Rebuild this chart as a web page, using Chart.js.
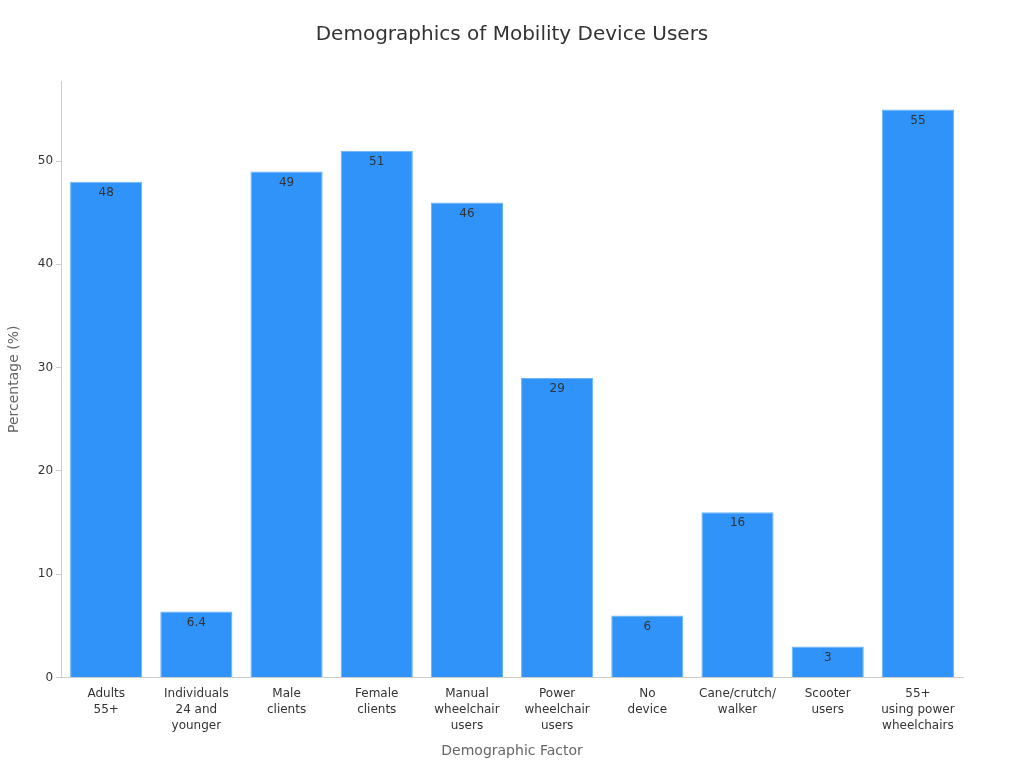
<!DOCTYPE html>
<html>
<head>
<meta charset="utf-8">
<style>
html,body{margin:0;padding:0;background:#fff;}
#wrap{width:1024px;height:768px;position:relative;}
</style>
<script src="https://cdn.jsdelivr.net/npm/chart.js@4.4.0/dist/chart.umd.min.js"></script>
</head>
<body>
<div id="wrap"><canvas id="c" width="1024" height="768"></canvas></div>
<script>
const categories = [
  ["Adults","55+"],
  ["Individuals","24 and","younger"],
  ["Male","clients"],
  ["Female","clients"],
  ["Manual","wheelchair","users"],
  ["Power","wheelchair","users"],
  ["No","device"],
  ["Cane/crutch/","walker"],
  ["Scooter","users"],
  ["55+","using power","wheelchairs"]
];
const values = [48, 6.4, 49, 51, 46, 29, 6, 16, 3, 55];
const valueLabels = ["48","6.4","49","51","46","29","6","16","3","55"];
const yTicks = [0, 10, 20, 30, 40, 50];
const chartTitle = 'Demographics of Mobility Device Users';

const FONT = "'DejaVu Sans', sans-serif";

const labelPlugin = {
  id: 'valueLabels',
  afterDatasetsDraw(chart) {
    const ctx = chart.ctx;
    const meta = chart.getDatasetMeta(0);
    ctx.save();
    ctx.font = "12px " + FONT;
    ctx.fillStyle = "#333333";
    ctx.textAlign = "center";
    ctx.textBaseline = "middle";
    meta.data.forEach((bar, i) => {
      ctx.fillText(valueLabels[i], bar.x, bar.y + 11);
    });
    ctx.restore();
  }
};

const titlePlugin = {
  id: 'centerTitle',
  afterDraw(chart) {
    const ctx = chart.ctx;
    ctx.save();
    ctx.font = "20px " + FONT;
    ctx.fillStyle = "#333333";
    ctx.textAlign = "center";
    ctx.textBaseline = "middle";
    ctx.fillText(chartTitle, chart.width / 2, 35);
    ctx.restore();
  }
};

new Chart(document.getElementById('c'), {
  type: 'bar',
  data: {
    labels: categories,
    datasets: [{
      data: values,
      backgroundColor: '#2f93f9',
      borderColor: '#6cb4f7',
      borderWidth: 1,
      categoryPercentage: 0.8,
      barPercentage: 1.0
    }]
  },
  options: {
    responsive: false,
    animation: false,
    devicePixelRatio: 1,
    layout: { padding: { left: 6, right: 61, top: 81, bottom: 8 } },
    plugins: {
      legend: { display: false },
      tooltip: { enabled: false },
      title: { display: false }
    },
    scales: {
      x: {
        grid: { display: false, drawTicks: true, tickLength: 5, color: '#cccccc' },
        border: { color: '#cccccc' },
        ticks: { color: '#333333', font: { family: FONT, size: 12, lineHeight: 1.35 }, maxRotation: 0, autoSkip: false, padding: 3 },
        title: { display: true, text: 'Demographic Factor', color: '#666666', font: { family: FONT, size: 14 }, padding: { top: 6, bottom: 0 } }
      },
      y: {
        min: 0,
        max: 57.75,
        afterBuildTicks(scale) { scale.ticks = yTicks.map(v => ({ value: v })); },
        grid: { display: true, drawOnChartArea: false, drawTicks: true, tickLength: 5, color: '#cccccc' },
        border: { color: '#cccccc' },
        ticks: { color: '#333333', font: { family: FONT, size: 12 }, padding: 3 },
        title: { display: true, text: 'Percentage (%)', color: '#666666', font: { family: FONT, size: 14 }, padding: { top: 0, bottom: 12 } }
      }
    }
  },
  plugins: [labelPlugin, titlePlugin]
});
</script>
</body>
</html>
